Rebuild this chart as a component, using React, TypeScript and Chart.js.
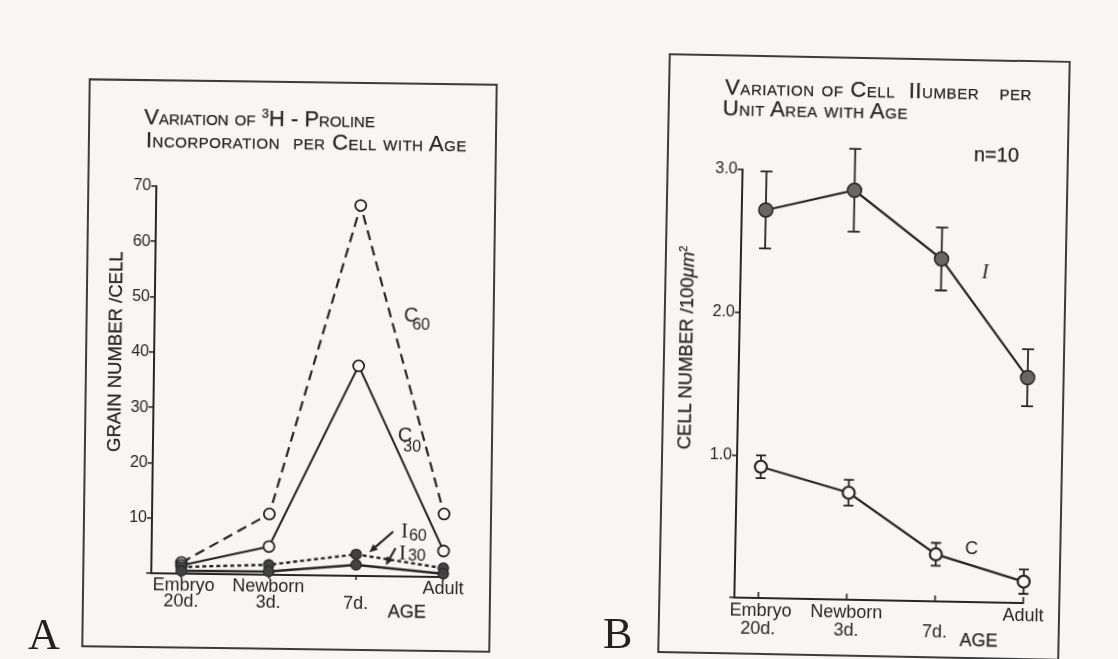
import { useEffect, useRef } from "react";
import { Chart, registerables } from "chart.js";

Chart.register(...registerables);

// Age groups (x positions are category indices on a linear axis)
const AGE_POSITIONS = [0, 1, 2, 3];
const AGE_TICK_LINES = [[" Embryo", "20d."], ["Newborn", "3d."], ["", "7d."], ["Adult"]];

// A: 3H-proline grain number per cell
const C60_GRAINS = [2.0, 11.0, 67, 11.4];
const C30_GRAINS = [1.5, 5.1, 38, 4.7];
const I60_GRAINS = [1.2, 1.8, 3.9, 1.6];
const I30_GRAINS = [0.5, 0.6, 2.0, 0.6];
const GRAIN_TICKS = [0, 10, 20, 30, 40, 50, 60, 70];

// B: cell number per 100 µm², mean ± SD (n = 10)
const CELL_I = [2.72, 2.87, 2.4, 1.58];
const CELL_I_SD = [0.27, 0.29, 0.22, 0.2];
const CELL_C = [0.92, 0.75, 0.33, 0.15];
const CELL_C_SD = [0.08, 0.09, 0.08, 0.085];
const CELL_TICKS = [0, 1, 2, 3];

const PAPER = "#f8f6f3";
const INK = "#262626";
const SANS = '"Liberation Sans", Arial, Helvetica, sans-serif';
const SERIF = '"Liberation Serif", "Times New Roman", serif';

type Tag = { text: string; sub?: string; x: number; y: number; size: number; family: string; italic?: boolean; subDx?: number; subDy?: number };
type Arrow = { from: [number, number]; to: [number, number] };

const pts = (vals: number[]) => AGE_POSITIONS.map((x, i) => ({ x, y: vals[i] }));

// Series name tags, anchored in data coordinates
const tagPlugin = (tags: Tag[]) => ({
  id: "seriesTags",
  afterDatasetsDraw(chart: any) {
    const { ctx, scales } = chart;
    ctx.save();
    ctx.fillStyle = INK;
    ctx.textAlign = "left";
    ctx.textBaseline = "middle";
    for (const t of tags) {
      const px = scales.x.getPixelForValue(t.x);
      const py = scales.y.getPixelForValue(t.y);
      ctx.font = `${t.italic ? "italic " : ""}${t.size}px ${t.family}`;
      ctx.fillText(t.text, px, py);
      const w = ctx.measureText(t.text).width;
      if (t.sub) {
        ctx.font = `16px ${SANS}`;
        ctx.fillText(t.sub, px + w + (t.subDx ?? 0), py + (t.subDy ?? 0));
      }
    }
    ctx.restore();
  },
});

// Pointer arrows from a tag to its line
const arrowPlugin = (arrows: Arrow[]) => ({
  id: "pointerArrows",
  afterDatasetsDraw(chart: any) {
    const { ctx, scales } = chart;
    ctx.save();
    ctx.strokeStyle = INK;
    ctx.fillStyle = INK;
    ctx.lineWidth = 2.2;
    for (const a of arrows) {
      const x0 = scales.x.getPixelForValue(a.from[0]);
      const y0 = scales.y.getPixelForValue(a.from[1]);
      const x1 = scales.x.getPixelForValue(a.to[0]);
      const y1 = scales.y.getPixelForValue(a.to[1]);
      const ang = Math.atan2(y1 - y0, x1 - x0);
      const head = 9;
      ctx.beginPath();
      ctx.moveTo(x0, y0);
      ctx.lineTo(x1 - Math.cos(ang) * head * 0.6, y1 - Math.sin(ang) * head * 0.6);
      ctx.stroke();
      ctx.beginPath();
      ctx.moveTo(x1, y1);
      ctx.lineTo(x1 - head * Math.cos(ang - 0.42), y1 - head * Math.sin(ang - 0.42));
      ctx.lineTo(x1 - head * Math.cos(ang + 0.42), y1 - head * Math.sin(ang + 0.42));
      ctx.closePath();
      ctx.fill();
    }
    ctx.restore();
  },
});

// Vertical SD bars with caps, read from each dataset's `sd` array
const errorBarPlugin = {
  id: "errorBars",
  beforeDatasetsDraw(chart: any) {
    const { ctx, scales } = chart;
    ctx.save();
    ctx.strokeStyle = INK;
    ctx.lineWidth = 1.8;
    chart.data.datasets.forEach((ds: any) => {
      if (!ds.sd) return;
      ds.data.forEach((p: any, i: number) => {
        const x = scales.x.getPixelForValue(p.x);
        const top = scales.y.getPixelForValue(p.y + ds.sd[i]);
        const bot = scales.y.getPixelForValue(p.y - ds.sd[i]);
        const c = ds.capHalf ?? 5;
        ctx.beginPath();
        ctx.moveTo(x, top);
        ctx.lineTo(x, bot);
        ctx.moveTo(x - c, top);
        ctx.lineTo(x + c, top);
        ctx.moveTo(x - c, bot);
        ctx.lineTo(x + c, bot);
        ctx.stroke();
      });
    });
    ctx.restore();
  },
};

// Short ticks on the age axis pointing into the plot
const innerAgeTicks = {
  id: "innerAgeTicks",
  afterDraw(chart: any) {
    const { ctx, scales, chartArea } = chart;
    ctx.save();
    ctx.strokeStyle = INK;
    ctx.lineWidth = 1.6;
    for (const v of AGE_POSITIONS) {
      const x = scales.x.getPixelForValue(v);
      ctx.beginPath();
      ctx.moveTo(x, chartArea.bottom);
      ctx.lineTo(x, chartArea.bottom - 6);
      ctx.stroke();
    }
    ctx.restore();
  },
};

const ageAxis = (min: number, lineHeight: number, outerTicks: boolean, height: number) => ({
  type: "linear" as const,
  min,
  max: 3,
  afterBuildTicks: (s: any) => {
    s.ticks = AGE_POSITIONS.map((value) => ({ value }));
  },
  afterFit: (s: any) => {
    s.height = height;
  },
  border: { display: true, color: INK, width: 2 },
  grid: { display: true, drawOnChartArea: false, drawTicks: outerTicks, tickLength: 4, color: INK, lineWidth: 1.6 },
  ticks: {
    autoSkip: false,
    maxRotation: 0,
    padding: outerTicks ? 0 : 4,
    color: INK,
    font: { family: SANS, size: 18, lineHeight },
    callback: (_v: any, i: number) => AGE_TICK_LINES[i],
  },
});

const valueAxis = (max: number, tickValues: number[], fmt: (v: number) => string) => ({
  type: "linear" as const,
  min: 0,
  max,
  afterBuildTicks: (s: any) => {
    s.ticks = tickValues.map((value) => ({ value }));
  },
  afterFit: (s: any) => {
    s.width = 50;
  },
  border: { display: true, color: INK, width: 2 },
  grid: { display: true, drawOnChartArea: false, drawTicks: true, tickLength: 5, color: INK, lineWidth: 1.6 },
  ticks: {
    padding: 0,
    color: INK,
    font: { family: SANS, size: 16 },
    callback: (v: number) => (v === 0 ? "" : fmt(v)),
  },
});

function grainConfig(): any {
  const open = { pointRadius: 5.5, pointBackgroundColor: PAPER, pointBorderColor: INK, pointBorderWidth: 1.8 };
  const filled = { pointRadius: 5.2, pointBackgroundColor: "#424242", pointBorderColor: INK, pointBorderWidth: 1.2 };
  return {
    type: "line",
    data: {
      datasets: [
        { label: "I30", data: pts(I30_GRAINS), borderColor: INK, borderWidth: 2.6, ...filled, clip: false },
        { label: "I60", data: pts(I60_GRAINS), borderColor: INK, borderWidth: 2.4, borderDash: [4, 3], ...filled, clip: false },
        { label: "C30", data: pts(C30_GRAINS), borderColor: INK, borderWidth: 2, ...open, clip: false },
        { label: "C60", data: pts(C60_GRAINS), borderColor: INK, borderWidth: 2.2, borderDash: [10, 6], ...open, clip: false },
      ],
    },
    options: {
      animation: false,
      responsive: false,
      events: [],
      layout: { padding: { left: 103, right: 114, top: 188, bottom: 39 } },
      plugins: { legend: { display: false }, tooltip: { enabled: false } },
      scales: {
        x: ageAxis(-0.3435, 0.9, true, 45),
        y: valueAxis(70, GRAIN_TICKS, (v) => String(v)),
      },
    },
    plugins: [
      tagPlugin([
        { text: "C", sub: "60", x: 2.51, y: 47.2, size: 20, family: SANS, subDx: -6, subDy: 10 },
        { text: "C", sub: "30", x: 2.46, y: 25.5, size: 20, family: SANS, subDx: -9, subDy: 12 },
        { text: "I", sub: "60", x: 2.51, y: 8.1, size: 21, family: SERIF, subDx: 1, subDy: 4 },
        { text: "I", sub: "30", x: 2.49, y: 4.0, size: 21, family: SERIF, subDx: 2, subDy: 2 },
      ]),
      arrowPlugin([
        { from: [2.42, 8.1], to: [2.15, 4.3] },
        { from: [2.45, 5.1], to: [2.34, 2.0] },
      ]),
    ],
  };
}

function cellConfig(): any {
  return {
    type: "line",
    data: {
      datasets: [
        {
          label: "I",
          data: pts(CELL_I),
          sd: CELL_I_SD,
          capHalf: 6,
          borderColor: INK,
          borderWidth: 2.2,
          pointRadius: 7,
          pointBackgroundColor: "#676767",
          pointBorderColor: INK,
          pointBorderWidth: 1.5,
          clip: false,
        },
        {
          label: "C",
          data: pts(CELL_C),
          sd: CELL_C_SD,
          capHalf: 5,
          borderColor: INK,
          borderWidth: 2.2,
          pointRadius: 6,
          pointBackgroundColor: PAPER,
          pointBorderColor: INK,
          pointBorderWidth: 2.2,
          clip: false,
        },
      ],
    },
    options: {
      animation: false,
      responsive: false,
      events: [],
      layout: { padding: { left: 128, right: 92, top: 172, bottom: 19 } },
      plugins: { legend: { display: false }, tooltip: { enabled: false } },
      scales: {
        x: ageAxis(-0.272, 1.0, false, 40),
        y: valueAxis(3, CELL_TICKS, (v) => v.toFixed(1)),
      },
    },
    plugins: [
      errorBarPlugin,
      innerAgeTicks,
      tagPlugin([
        { text: "I", x: 2.46, y: 2.31, size: 20, family: SERIF, italic: true },
        { text: "C", x: 2.33, y: 0.37, size: 18, family: SANS },
      ]),
    ],
  };
}

const abs = (o: React.CSSProperties): React.CSSProperties => ({ position: "absolute", ...o });

// Each printed panel sits very slightly askew on the page
const sheet = (transform: string, origin: string): React.CSSProperties =>
  abs({ left: 0, top: 0, width: 1118, height: 659, transform, transformOrigin: origin });

export default function App() {
  const refA = useRef<HTMLCanvasElement>(null);
  const refB = useRef<HTMLCanvasElement>(null);

  useEffect(() => {
    const a = new Chart(refA.current!, grainConfig());
    const b = new Chart(refB.current!, cellConfig());
    return () => {
      a.destroy();
      b.destroy();
    };
  }, []);

  const inked: React.CSSProperties = { color: INK, WebkitTextStroke: `0.25px ${INK}` };
  const title: React.CSSProperties = {
    ...inked,
    fontFamily: SANS,
    fontVariant: "small-caps",
    fontSize: 22,
    lineHeight: "22px",
    whiteSpace: "pre",
  };
  const axisTitle: React.CSSProperties = {
    ...inked,
    fontFamily: SANS,
    fontSize: 18.5,
    whiteSpace: "nowrap",
    transform: "translate(-50%, -50%) rotate(-90deg)",
  };
  const plain: React.CSSProperties = { ...inked, fontFamily: SANS, lineHeight: "22px" };
  const panelLetter: React.CSSProperties = { fontFamily: SERIF, fontSize: 44, lineHeight: "44px", color: "#222" };

  return (
    <div style={abs({ left: 0, top: 0, width: 1118, height: 659, background: PAPER, overflow: "hidden" })}>
      {/* panel A */}
      <div style={sheet("translate(1px, 0) rotate(0.75deg)", "288px 365px")}>
        <div style={abs({ left: 84, top: 81, width: 409, height: 569, border: "2px solid #3c3c3c", boxSizing: "border-box" })} />
        <canvas ref={refA} width={559} height={659} style={abs({ left: 0, top: 0 })} />
        <div style={abs({ ...title, left: 140, top: 108 })}>
          {"Variation of "}
          <span style={{ fontSize: 13, position: "relative", top: -8, fontVariant: "normal" }}>3</span>
          {"H - Proline"}
        </div>
        <div style={abs({ ...title, left: 142, top: 131, letterSpacing: 0.5 })}>{"Incorporation  per Cell with Age"}</div>
        <div style={abs({ ...axisTitle, left: 114, top: 354 })}>GRAIN NUMBER /CELL</div>
        <div style={abs({ ...plain, fontSize: 18, left: 390, top: 599 })}>AGE</div>
      </div>
      <div style={abs({ ...panelLetter, left: 28, top: 613 })}>A</div>

      {/* panel B */}
      <div style={sheet("translate(2px, 0) rotate(1.1deg)", "863px 356px")}>
        <div style={abs({ left: 661, top: 57, width: 402, height: 600, border: "2px solid #3c3c3c", boxSizing: "border-box" })} />
        <canvas ref={refB} width={559} height={659} style={abs({ left: 559, top: 0 })} />
        <div style={abs({ ...title, left: 718, top: 79, letterSpacing: 0.6 })}>{"Variation of Cell  IIumber   per"}</div>
        <div style={abs({ ...title, left: 716, top: 100, letterSpacing: 0.5 })}>{"Unit Area with Age"}</div>
        <div style={abs({ ...axisTitle, left: 684, top: 351 })}>
          CELL NUMBER /100<i>μm</i>
          <span style={{ fontSize: 11, position: "relative", top: -7 }}>2</span>
        </div>
        <div style={abs({ ...plain, fontSize: 20, left: 968, top: 141 })}>n=10</div>
        <div style={abs({ ...plain, fontSize: 18, left: 963, top: 627 })}>AGE</div>
      </div>
      <div style={abs({ ...panelLetter, left: 603, top: 612 })}>B</div>
    </div>
  );
}
